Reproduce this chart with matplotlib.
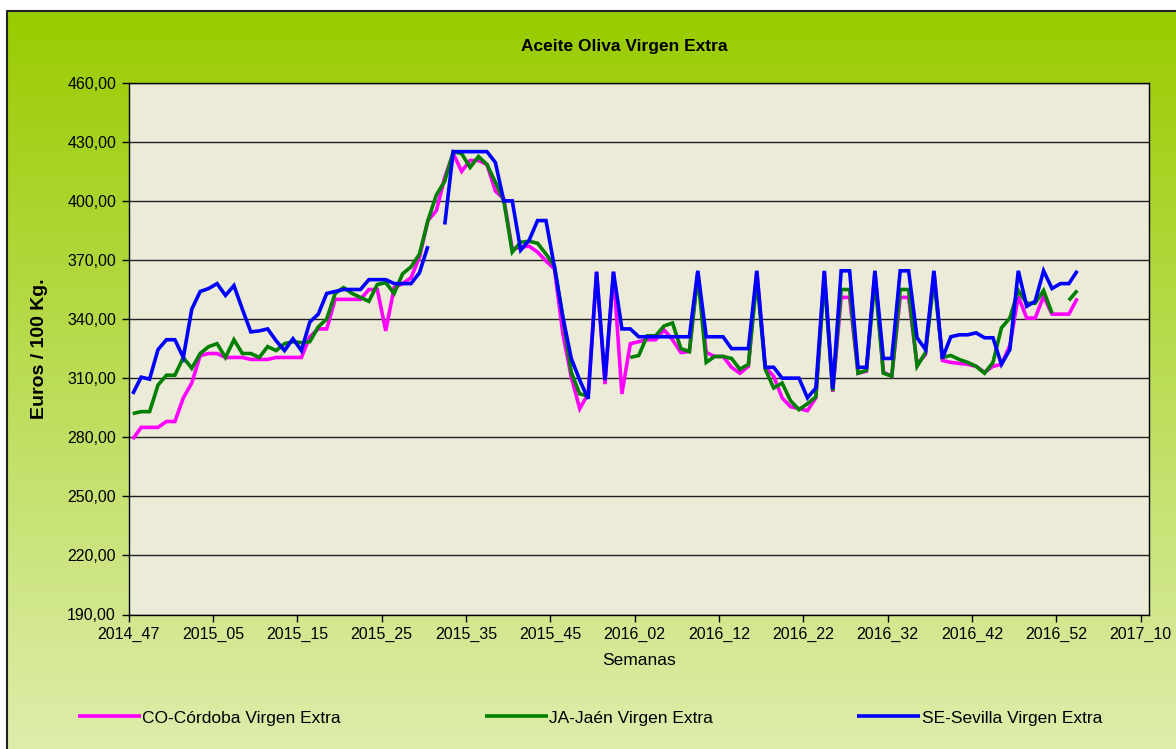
import numpy as np
import matplotlib.pyplot as plt
from matplotlib.ticker import FuncFormatter

plt.rcParams['font.family'] = ['Liberation Sans', 'DejaVu Sans']

# Week labels shown on the category axis (one every 10 weeks)
tick_labels = ['2014_47', '2015_05', '2015_15', '2015_25', '2015_35', '2015_45',
               '2016_02', '2016_12', '2016_22', '2016_32', '2016_42', '2016_52', '2017_10']
n_categories = 121

# Weekly prices, euros / 100 kg (None = no quote that week)
cordoba = [
    279, 285, 285, 285, 288, 288, 300, 307.5, 321.5, 322.5,
    322.5, 320.5, 320.5, 320.5, 319.5, 319.5, 319.5, 320.5, 320.5, 320.5,
    320.5, 331, 335, 335, 350, 350, 350, 350, 355, 355,
    334, 356, 358, 361, 371.5, 390, 395, 412, 424, 415,
    420.5, 420.5, 418.5, 405, 401, 375.5, 376.5, 377, 374, 369.5,
    365.5, 332.5, 310.5, 294.5, 302, 364, 307, 364, 302, 327.5,
    328.5, 329.5, 329.5, 334.5, 329.5, 323, 323.5, 364, 323, 321,
    321, 315.5, 312.5, 316, 364, 315.5, 311, 300, 295.5, 294.5,
    293.5, 300, 364, 303, 351, 351, 312.5, 313.5, 364, 313,
    311, 351, 351, 317, 322, 364, 319, 318, 317.5, 317,
    316, 313, 316, 317, 326.5, 351.5, 340.5, 340.5, 351.5, 342.5,
    342.5, 342.5, 350.5,
]

jaen = [
    292, 293, 293, 306.5, 311.5, 311.5, 320.5, 315, 322.5, 326,
    327.5, 320.5, 329.5, 322.5, 322.5, 320.5, 326, 324, 327.5, 328.5,
    328, 328.5, 336, 340, 353, 356, 353, 351, 349, 357.5,
    358.5, 353, 363, 366.5, 373, 390, 403, 410, 425, 424,
    417, 422.5, 418.5, 409.5, 400, 374, 379, 379.5, 378.5, 373,
    367, 341, 313, 302, 301, None, None, None, None, 320.5,
    321.5, 331.5, 331.5, 336.5, 338, 325, 323.5, 362, 318, 321,
    321, 320, 314.5, 317, 360, 314.5, 305, 307.5, 298.5, 294,
    297, 300.5, 360, 303.5, 355, 355, 312.5, 314, 360, 312.5,
    311, 355, 355, 316, 323, 360, 320.5, 321.5, 319.5, 318,
    316, 312.5, 318, 335.5, 340.5, 354.5, 348, 348, 354.5, 343,
    None, 349.5, 354.5,
]

sevilla = [
    302, 310.5, 309.5, 324.5, 329.5, 329.5, 320.5, 345, 354, 355.5,
    358, 352, 357, 345, 333.5, 334, 335, 329, 324, 330,
    324, 338.5, 342.5, 353, 354, 355, 355, 355, 360, 360,
    360, 358, 358, 358, 363.5, 377, None, 388, 425, 425,
    425, 425, 425, 419.5, 400, 400, 375, 380, 390, 390,
    366.5, 341, 320, 309, 299.5, 364, 309, 364, 335, 335,
    331, 331, 331, 331, 331, 331, 331, 364.5, 331, 331,
    331, 325, 325, 325, 364.5, 315.5, 315.5, 310, 310, 310,
    300, 305, 364.5, 304.5, 364.5, 364.5, 315.5, 315.5, 364.5, 320,
    320, 364.5, 364.5, 330.5, 324.5, 364.5, 320, 331, 332, 332,
    333, 330.5, 330.5, 317, 324.5, 364.5, 346.5, 349, 364.5, 355.5,
    358, 358, 364.5,
]

series = [
    ('CO-Córdoba Virgen Extra', cordoba, '#FF00FF'),
    ('JA-Jaén Virgen Extra', jaen, '#008000'),
    ('SE-Sevilla Virgen Extra', sevilla, '#0000FF'),
]


def to_array(vals):
    return np.array([np.nan if v is None else v for v in vals], dtype=float)


W, H = 1176, 749
fig = plt.figure(figsize=(W / 100, H / 100), dpi=100, facecolor='white')

# chart area background: vertical green gradient with a dark frame
bg = fig.add_axes([0, 0, 1, 1], zorder=-5)
bg.set_xlim(0, W)
bg.set_ylim(H, 0)
bg.axis('off')
top = np.array([153, 204, 0]) / 255
bottom = np.array([222, 237, 172]) / 255
t = np.linspace(0, 1, 256)[:, None]
grad = (top[None, :] * (1 - t) + bottom[None, :] * t)[:, None, :]
bg.imshow(grad, extent=(7, W, H, 11), aspect='auto', interpolation='bilinear')
bg.plot([7, 7, W], [H, 11, 11], color='#222222', lw=1.5)

ax = fig.add_axes([128.5 / W, 1 - 614.5 / H, (1149 - 128.5) / W, (614.5 - 82.7) / H])
ax.set_facecolor('#EBEBD8')

x = np.arange(len(cordoba)) + 0.5
handles = []
for label, vals, color in series:
    h, = ax.plot(x, to_array(vals), color=color, lw=2.6, label=label,
                 solid_joinstyle='miter', solid_capstyle='butt')
    handles.append(h)

ax.set_xlim(0, n_categories)
ax.set_ylim(190, 460)
ax.set_yticks(np.arange(190, 461, 30))
ax.yaxis.set_major_formatter(FuncFormatter(lambda v, p: f'{v:.2f}'.replace('.', ',')))
ax.set_xticks(np.arange(0, n_categories, 10))
ax.set_xticklabels(tick_labels)
ax.tick_params(axis='both', direction='out', length=5, width=1, labelsize=11.5,
               colors='black', pad=4)
ax.grid(axis='y', color='#222222', lw=1)
ax.set_axisbelow(True)
for s in ax.spines.values():
    s.set_color('black')
    s.set_linewidth(1)

ax.set_ylabel('Euros / 100 Kg.', fontsize=14, fontweight='bold', labelpad=14)
ax.set_xlabel('Semanas', fontsize=12.5, labelpad=8)
fig.text(624 / W, 1 - 46 / H, 'Aceite Oliva Virgen Extra', ha='center', va='center',
         fontsize=12.5, fontweight='bold')

fig.legend(handles=handles, loc='center', bbox_to_anchor=(590 / W, 1 - 718 / H), ncol=3,
           frameon=False, fontsize=12.5, handlelength=3.6, handletextpad=0.1,
           columnspacing=8.3)

fig.savefig('out.png', dpi=100, facecolor=fig.get_facecolor())
